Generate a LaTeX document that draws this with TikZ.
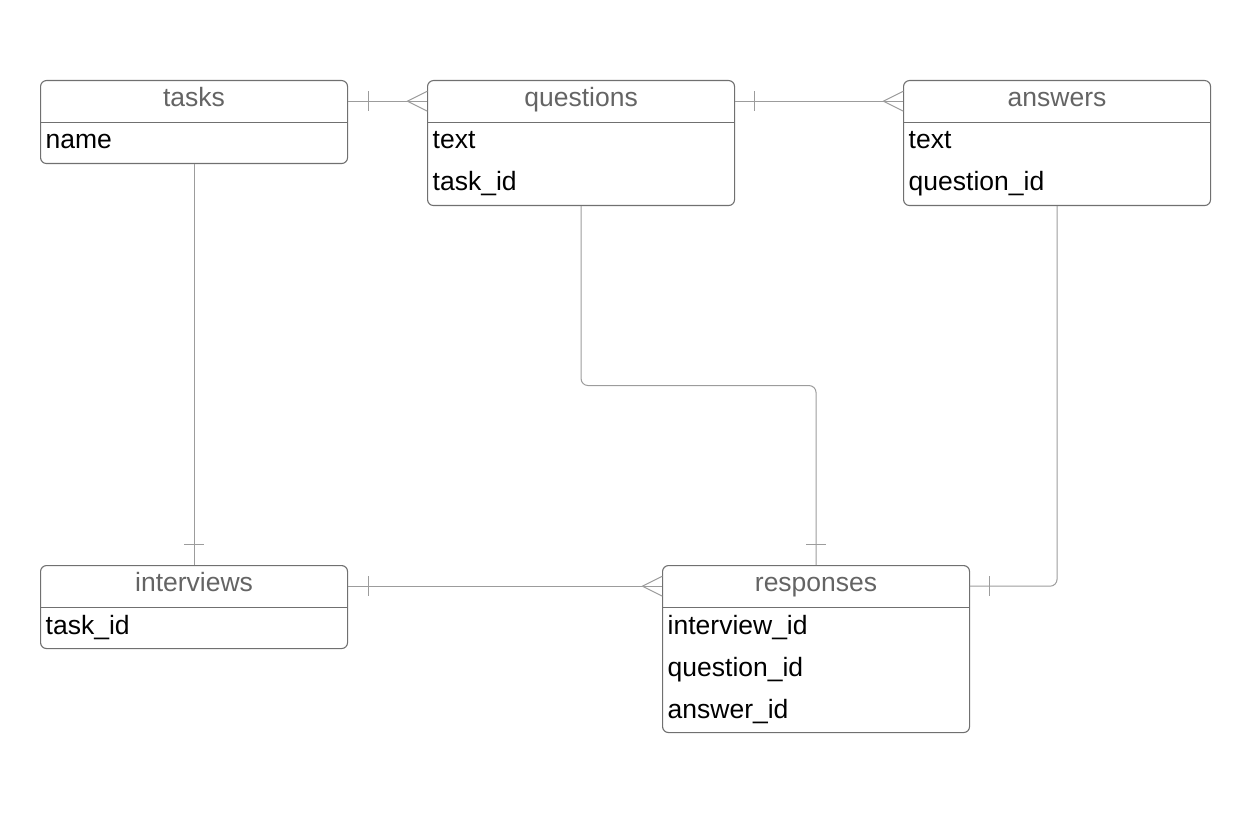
\documentclass[tikz,border=0pt]{standalone}
\usepackage{fontspec}
\setmainfont{Liberation Sans}
\usetikzlibrary{calc,positioning}
\definecolor{boxline}{HTML}{707070}
\definecolor{headtext}{HTML}{646464}
\definecolor{linkline}{HTML}{9C9C9C}

\tikzset{
  entity/.style={draw=boxline, line width=1.1pt, rounded corners=6pt, minimum width=307pt, inner sep=0pt, anchor=north west},
  head/.style={minimum width=307pt, minimum height=42pt, inner sep=0pt, text height=18pt, text depth=8pt, text=headtext, font=\fontsize{26.5}{30}\selectfont, anchor=north},
  field/.style={anchor=base west, inner sep=0pt, text=black, font=\fontsize{26.5}{30}\selectfont},
  link/.style={draw=linkline, line width=1pt},
}

\begin{document}
\begin{tikzpicture}[x=1pt,y=-1pt]
        \useasboundingbox (0,0) rectangle (1255,821);

        % Entity boxes
        \node[entity, minimum height=83pt] (tasks) at (40,80) {};
        \node[entity, minimum height=125pt] (questions) at (427,80) {};
        \node[entity, minimum height=125pt] (answers) at (903,80) {};
        \node[entity, minimum height=83pt] (interviews) at (40,565) {};
        \node[entity, minimum height=167pt] (responses) at (662,565) {};

        % Header rows and separators
        \foreach \ent in {tasks,questions,answers,interviews,responses} {
            \node[head] (\ent-head) at (\ent.north) {\ent};
            \draw[boxline, line width=1.1pt] (\ent-head.south west) -- (\ent-head.south east);
        }

        % Fields
        \node[field] (tasks-name) at ($(tasks.north west)+(5.5,69)$) {name};
        \node[field] (questions-text) at ($(questions.north west)+(5.5,69)$) {text};
        \node[field] (questions-task) at ($(questions.north west)+(5.5,111)$) {task\_id};
        \node[field] (answers-text) at ($(answers.north west)+(5.5,69)$) {text};
        \node[field] (answers-question) at ($(answers.north west)+(5.5,111)$) {question\_id};
        \node[field] (interviews-task) at ($(interviews.north west)+(5.5,69)$) {task\_id};
        \node[field] (responses-interview) at ($(responses.north west)+(5.5,69)$) {interview\_id};
        \node[field] (responses-question) at ($(responses.north west)+(5.5,111)$) {question\_id};
        \node[field] (responses-answer) at ($(responses.north west)+(5.5,153)$) {answer\_id};

        % tasks -- questions
        \draw[link] (tasks-head.east) -- (questions-head.west);
        \draw[link] ($(tasks-head.east)+(21,-10)$) -- ++(0,20);
        \draw[link] ($(questions-head.west)+(0,-10)$) -- ($(questions-head.west)+(-20,0)$) -- ($(questions-head.west)+(0,10)$);

        % questions -- answers
        \draw[link] (questions-head.east) -- (answers-head.west);
        \draw[link] ($(questions-head.east)+(20,-10)$) -- ++(0,20);
        \draw[link] ($(answers-head.west)+(0,-10)$) -- ($(answers-head.west)+(-20,0)$) -- ($(answers-head.west)+(0,10)$);

        % tasks -- interviews
        \draw[link] (tasks.south) -- (interviews.north);
        \draw[link] ($(interviews.north)+(-10,-21)$) -- ++(20,0);

        % questions -- responses
        \coordinate (bend) at ($(questions.south)!0.5!(responses.north)$);
        \draw[link, rounded corners=7pt] (questions.south) |- (bend) -| (responses.north);
        \draw[link] ($(responses.north)+(-10,-21)$) -- ++(20,0);

        % answers -- responses
        \draw[link, rounded corners=7pt] (answers.south) |- (responses-head.east);
        \draw[link] ($(responses-head.east)+(20,-10)$) -- ++(0,20);

        % interviews -- responses
        \draw[link] (interviews-head.east) -- (responses-head.west);
        \draw[link] ($(interviews-head.east)+(21,-10)$) -- ++(0,20);
        \draw[link] ($(responses-head.west)+(0,-10)$) -- ($(responses-head.west)+(-20,0)$) -- ($(responses-head.west)+(0,10)$);

\end{tikzpicture}
\end{document}
